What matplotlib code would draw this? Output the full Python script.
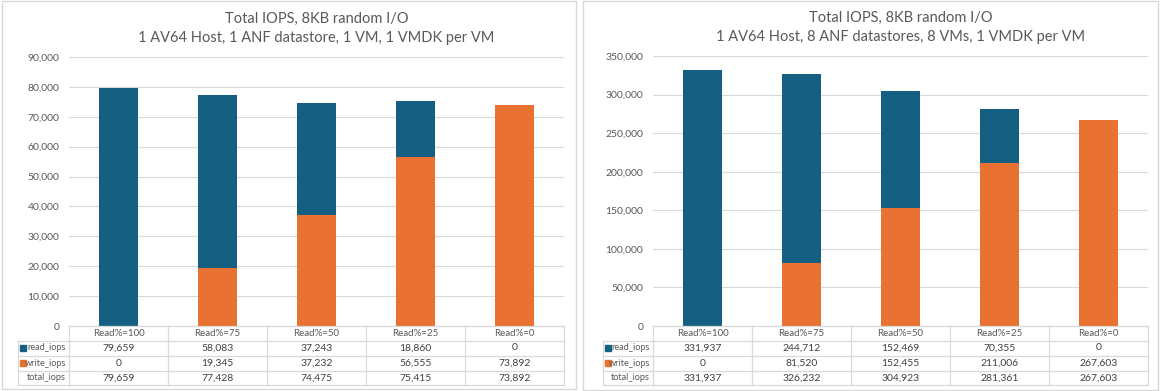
import matplotlib
matplotlib.use("Agg")
import matplotlib.pyplot as plt
from matplotlib.patches import Rectangle
from matplotlib.ticker import FuncFormatter

categories = ["Read%=100", "Read%=75", "Read%=50", "Read%=25", "Read%=0"]

left_read = [79659, 58083, 37243, 18860, 0]
left_write = [0, 19345, 37232, 56555, 73892]
left_total = [79659, 77428, 74475, 75415, 73892]

right_read = [331937, 244712, 152469, 70355, 0]
right_write = [0, 81520, 152455, 211006, 267603]
right_total = [331937, 326232, 304923, 281361, 267603]

left_title = "Total IOPS, 8KB random I/O\n1 AV64 Host, 1 ANF datastore, 1 VM, 1 VMDK per VM"
right_title = "Total IOPS, 8KB random I/O\n1 AV64 Host, 8 ANF datastores, 8 VMs, 1 VMDK per VM"

BLUE = "#156082"
ORANGE = "#E97132"
GRID = "#D9D9D9"
TXT = "#595959"
TBL = "#404040"

plt.rcParams["font.family"] = ["Lato", "DejaVu Sans"]

W, H = 1161, 391
fig = plt.figure(figsize=(W / 100, H / 100), dpi=100)


def fx(px):
    return px / W


def fy(py):
    return (H - py) / H


def panel(px0, px1, ptop, pbot, ax_x0, ax_x1, ax_top, ax_bot, lab_x0,
          read, write, total, ymax, ystep, title):
    # panel frame
    fig.patches.append(Rectangle((fx(px0), fy(pbot)), fx(px1 - px0), (pbot - ptop) / H,
                                 transform=fig.transFigure, fill=False,
                                 edgecolor=GRID, linewidth=1.0))
    ax = fig.add_axes([fx(ax_x0), fy(ax_bot), fx(ax_x1 - ax_x0), (ax_bot - ax_top) / H])
    x = list(range(len(categories)))
    ax.bar(x, write, width=0.40, color=ORANGE, zorder=3)
    ax.bar(x, read, width=0.40, bottom=write, color=BLUE, zorder=3)
    ax.set_xlim(-0.5, len(categories) - 0.5)
    ax.set_ylim(0, ymax)
    ax.set_yticks(range(0, ymax + 1, ystep))
    ax.yaxis.set_major_formatter(FuncFormatter(lambda v, p: f"{int(v):,}"))
    ax.tick_params(axis="y", length=0, pad=7, labelsize=7.5, labelcolor=TXT)
    ax.set_xticks([])
    ax.grid(axis="y", color=GRID, linewidth=0.8, zorder=0)
    for s in ax.spines.values():
        s.set_visible(False)
    ax.set_title(title, fontsize=10.5, color=TXT, pad=11, linespacing=1.45)

    # table in pixel space
    ah = ax_bot - ax_top

    def ay(py):
        return (ax_bot - py) / ah

    trans = ax.get_xaxis_transform()
    rows = [ax_bot, ax_bot + 14.5, ax_bot + 29.5, ax_bot + 44.5, ax_bot + 59]
    for r in rows:
        ax.plot([-0.5, len(categories) - 0.5], [ay(r), ay(r)], transform=trans,
                color=GRID, linewidth=0.9, clip_on=False, zorder=4)
    for i in range(len(categories) + 1):
        xv = i - 0.5
        ax.plot([xv, xv], [ay(rows[0]), ay(rows[-1])], transform=trans,
                color=GRID, linewidth=0.9, clip_on=False)
    for r in rows[1:]:
        fig.add_artist(plt.Line2D([fx(lab_x0), fx(ax_x0)], [fy(r), fy(r)],
                                  transform=fig.transFigure, color=GRID, linewidth=0.9))
    fig.add_artist(plt.Line2D([fx(lab_x0), fx(lab_x0)], [fy(rows[1]), fy(rows[-1])],
                              transform=fig.transFigure, color=GRID, linewidth=0.9))
    for i, c in enumerate(categories):
        ax.text(i, ay((rows[0] + rows[1]) / 2), c, transform=trans, ha="center",
                va="center", fontsize=7, color=TXT)
    series = [("read_iops", read, BLUE), ("write_iops", write, ORANGE),
              ("total_iops", total, None)]
    for k, (name, vals, col) in enumerate(series):
        yc = (rows[k + 1] + rows[k + 2]) / 2
        for i, v in enumerate(vals):
            ax.text(i, ay(yc), f"{v:,}", transform=trans, ha="center", va="center",
                    fontsize=7.5, color=TBL)
        fig.text(fx(ax_x0 - 3), fy(yc), name, ha="right", va="center",
                 fontsize=6.6, color=TXT)
        if col is not None:
            fig.patches.append(Rectangle((fx(lab_x0 + 2), fy(yc + 2.7)), fx(5.5), 5.5 / H,
                                         transform=fig.transFigure, color=col))
    return ax


panel(2, 576, 1, 389, 69, 564, 57, 326, 18,
      left_read, left_write, left_total, 90000, 10000, left_title)
panel(583, 1158, 1, 390, 653, 1148, 56, 326, 603,
      right_read, right_write, right_total, 350000, 50000, right_title)

fig.savefig("out.png", dpi=100)
